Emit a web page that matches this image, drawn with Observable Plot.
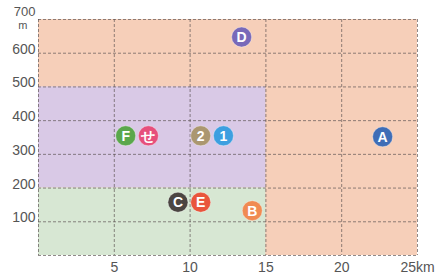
<!DOCTYPE html>
<html>
<head>
<meta charset="utf-8">
<script src="https://cdn.jsdelivr.net/npm/d3@7"></script>
<script src="https://cdn.jsdelivr.net/npm/@observablehq/plot@0.6"></script>
<style>
  body { margin: 0; background: #ffffff; }
  #chart { width: 446px; height: 275px; }
</style>
</head>
<body>
<div id="chart"></div>
<script>
// Background zones
const zoneX1 = [0, 0, 0];
const zoneX2 = [25, 15, 15];
const zoneY1 = [0, 200, 0];
const zoneY2 = [700, 500, 200];
const zoneColors = ["#f6cfb9", "#d9c9e6", "#d7e7d3"];

// Ticks
const kmTicks = [5, 10, 15, 20, 25];
const kmLabels = ["5", "10", "15", "20", "25km"];
const mTicks = [100, 200, 300, 400, 500, 600];
const topTick = [700];
const gridX = [0, 5, 10, 15, 20, 25];
const gridY = [0, 100, 200, 300, 400, 500, 600, 700];

// Points
const pointLabels = ["D", "A", "F", "せ", "2", "1", "C", "E", "B"];
const pointKm = [13.4, 22.7, 5.75, 7.25, 10.7, 12.2, 9.2, 10.7, 14.1];
const pointM = [648, 352, 355, 355, 355, 355, 158, 158, 133];
const pointColors = ["#7869b9", "#3f6db6", "#5aa74c", "#e64f7c", "#ab9770", "#3d9fe0", "#4b4542", "#e9553c", "#f08b52"];

const zones = zoneX1.map((x1, i) => ({x1, x2: zoneX2[i], y1: zoneY1[i], y2: zoneY2[i], fill: zoneColors[i]}));
const points = pointLabels.map((label, i) => ({label, x: pointKm[i], y: pointM[i], color: pointColors[i]}));

const font = "'Liberation Sans Narrow', 'Liberation Sans', Arial, sans-serif";

const chart = Plot.plot({
  width: 446,
  height: 275,
  marginLeft: 38,
  marginRight: 29,
  marginTop: 19,
  marginBottom: 20,
  style: {fontFamily: font, background: "#ffffff"},
  x: {domain: [0, 25], axis: null},
  y: {domain: [0, 700], axis: null},
  marks: [
    Plot.rect(zones, {x1: "x1", x2: "x2", y1: "y1", y2: "y2", fill: "fill"}),
    Plot.ruleX(gridX, {stroke: "#5a5050", strokeWidth: 0.9, strokeDasharray: "3,2", strokeOpacity: 0.75}),
    Plot.ruleY(gridY, {stroke: "#5a5050", strokeWidth: 0.9, strokeDasharray: "3,2", strokeOpacity: 0.75}),
    Plot.text(kmTicks, {x: d => d, y: 0, text: (d, i) => kmLabels[i], dy: 12, fontSize: 14, fill: "#555", fontFamily: font}),
    Plot.text(mTicks, {x: 0, y: d => d, text: d => String(d), dx: -3, dy: -4, textAnchor: "end", fontSize: 14, fill: "#555", fontFamily: font}),
    Plot.text(topTick, {x: 0, y: d => d, text: d => String(d), dx: -3, dy: -8, textAnchor: "end", fontSize: 13, fill: "#555", fontFamily: font}),
    Plot.text(["m"], {x: 0, y: 700, text: d => d, dx: -11, dy: 6, textAnchor: "end", fontSize: 11, fill: "#555", fontFamily: font}),
    Plot.dot(points, {x: "x", y: "y", r: 10, fill: "color", stroke: "#ffffff", strokeOpacity: 0.35, strokeWidth: 1}),
    Plot.text(points, {x: "x", y: "y", text: "label", fill: "#ffffff", fontSize: 14, fontWeight: "bold", fontFamily: font, dy: 0.5})
  ]
});
document.getElementById("chart").appendChild(chart);
</script>
</body>
</html>
